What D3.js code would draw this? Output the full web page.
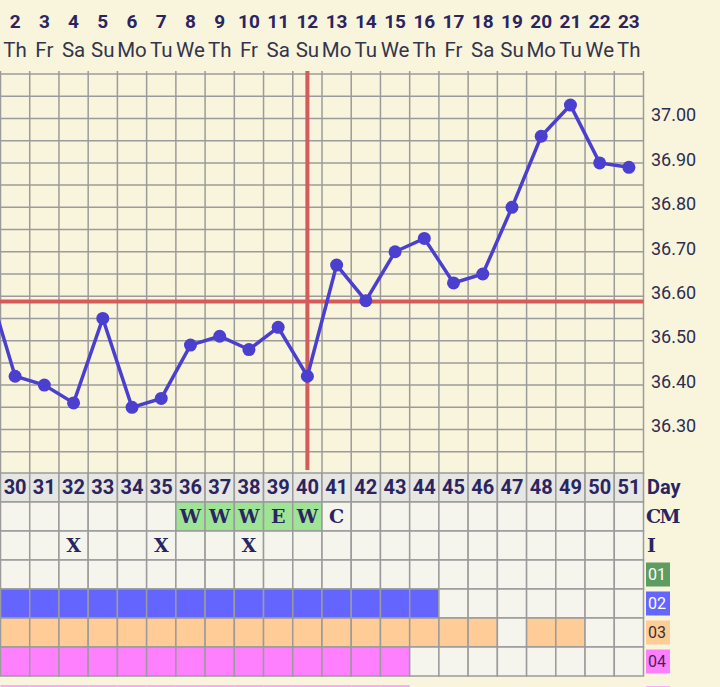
<!DOCTYPE html>
<html><head><meta charset="utf-8">
<script src="https://cdn.jsdelivr.net/npm/d3@7"></script>
<style>html,body{margin:0;padding:0;background:#f9f5dc;}svg{display:block;}</style>
</head><body>
<script>
// ---- data ----
const cycleDays = d3.range(30, 52);                 // 30..51
const dates = [2,3,4,5,6,7,8,9,10,11,12,13,14,15,16,17,18,19,20,21,22,23];
const weekdays = ["Th","Fr","Sa","Su","Mo","Tu","We","Th","Fr","Sa","Su","Mo","Tu","We","Th","Fr","Sa","Su","Mo","Tu","We","Th"];
const tempDays = d3.range(29, 52);                  // day 29 is the preceding (clipped) reading
const temps = [36.64, 36.42,36.40,36.36,36.55,36.35,36.37,36.49,36.51,36.48,36.53,36.42,
               36.67,36.59,36.70,36.73,36.63,36.65,36.80,36.96,37.03,36.90,36.89];
const tempTicks = [36.30,36.40,36.50,36.60,36.70,36.80,36.90,37.00];
const coverline = 36.588;
const ovulationDay = 40;
const cmValues = ["","","","","","","W","W","W","E","W","C","","","","","","","","","",""];
const cmGreen  = [0,0,0,0,0,0,1,1,1,1,1,0,0,0,0,0,0,0,0,0,0,0];
const iValues  = ["","","X","","","X","","","X","","","","","","","","","","","","",""];
const row01 = [0,0,0,0,0,0,0,0,0,0,0,0,0,0,0,0,0,0,0,0,0,0];
const row02 = [1,1,1,1,1,1,1,1,1,1,1,1,1,1,1,0,0,0,0,0,0,0];
const row03 = [1,1,1,1,1,1,1,1,1,1,1,1,1,1,1,1,1,0,1,1,0,0];
const row04 = [1,1,1,1,1,1,1,1,1,1,1,1,1,1,0,0,0,0,0,0,0,0];
const row05 = [1,1,1,1,1,1,1,1,1,1,1,1,1,1,0,0,0,0,0,0,0,0];
const rowLabels = ["01","02","03","04"];

// ---- styles ----
const W = 720, H = 687;
const navy = "#2a2560";
const gridCol = "#9b9b9b";
const rowColors = ["#5f9c62","#6464ff","#ffcb96","#ff80ff","#ffa8ff"];
const rowText = ["#ffffff","#ffffff","#333333","#4a1f5c"];

const svg = d3.select("body").append("svg").attr("width", W).attr("height", H);
svg.append("rect").attr("width", W).attr("height", H).attr("fill", "#f9f5dc");

const plotRight = 643.5, plotLeft = 0.5;
const x = d3.scaleLinear().domain([29.5, 51.5]).range([plotLeft, plotRight]);
const colW = x(31) - x(30);
const y = d3.scaleLinear().domain([36.20, 37.10]).range([474, 74]);

// header
const hdr = svg.append("g");
hdr.selectAll("text.date").data(cycleDays).join("text")
  .attr("x", d => x(d)).attr("y", 28).attr("text-anchor", "middle")
  .attr("font-family", "Roboto").attr("font-weight", 700).attr("font-size", 19)
  .attr("fill", navy).text((d, i) => dates[i]);
hdr.selectAll("text.wd").data(cycleDays).join("text")
  .attr("x", d => x(d)).attr("y", 57).attr("text-anchor", "middle")
  .attr("font-family", "Roboto").attr("font-size", 20.5)
  .attr("fill", "#34344a").text((d, i) => weekdays[i]);

// grid
const grid = svg.append("g").attr("stroke", gridCol).attr("stroke-width", 1.5);
const hLines = d3.range(36.25, 37.1001, 0.05);
grid.selectAll("line.h").data(hLines).join("line")
  .attr("x1", 0).attr("x2", plotRight).attr("y1", d => y(d)).attr("y2", d => y(d));
grid.selectAll("line.v").data(d3.range(30, 53)).join("line")
  .attr("x1", d => x(d - 0.5)).attr("x2", d => x(d - 0.5)).attr("y1", 71).attr("y2", 474);

// right axis labels
svg.append("g").selectAll("text").data(tempTicks).join("text")
  .attr("x", 651).attr("y", d => y(d) - 2).attr("dominant-baseline", "middle")
  .attr("font-family", "Roboto").attr("font-size", 18).attr("fill", "#2d2d50")
  .text(d => d.toFixed(2));

// coverline & ovulation line
const red = "#d65a5a";
svg.append("line").attr("x1", 0).attr("x2", plotRight)
  .attr("y1", y(coverline)).attr("y2", y(coverline))
  .attr("stroke", red).attr("stroke-width", 4);
svg.append("line").attr("x1", x(ovulationDay)).attr("x2", x(ovulationDay))
  .attr("y1", 71).attr("y2", 470).attr("stroke", red).attr("stroke-width", 4);

// temperature line
svg.append("clipPath").attr("id", "clip").append("rect")
  .attr("x", 0).attr("y", 60).attr("width", plotRight).attr("height", 420);
const tg = svg.append("g").attr("clip-path", "url(#clip)");
const pts = tempDays.map((d, i) => ({d, t: temps[i]}));
const lineCol = "#4b3fcf";
tg.append("path").datum(pts)
  .attr("d", d3.line().x(p => x(p.d)).y(p => y(p.t)))
  .attr("fill", "none").attr("stroke", lineCol).attr("stroke-width", 3.5);
tg.selectAll("circle").data(pts).join("circle")
  .attr("cx", p => x(p.d)).attr("cy", p => y(p.t)).attr("r", 6.5).attr("fill", lineCol);

// table
const rowH = 29;
const tbl = svg.append("g");
function cellRow(top, fills) {
  tbl.append("g").selectAll("rect").data(cycleDays).join("rect")
    .attr("x", d => x(d - 0.5)).attr("y", top).attr("width", colW).attr("height", rowH)
    .attr("fill", (d, i) => fills(i)).attr("stroke", gridCol).attr("stroke-width", 1.5);
}
function cellText(top, vals, font, size, weight) {
  tbl.append("g").selectAll("text").data(cycleDays).join("text")
    .attr("x", d => x(d)).attr("y", top + rowH / 2 + 1).attr("text-anchor", "middle")
    .attr("dominant-baseline", "middle")
    .attr("font-family", font).attr("font-size", size).attr("font-weight", weight)
    .attr("fill", navy).text((d, i) => vals[i]);
}
const cellBg = "#f5f5ee";
const dayTop = 473;
cellRow(dayTop, () => "#e6e6e3");
cellText(dayTop, cycleDays.map(String), "Roboto", 20, 700);
const cmTop = dayTop + rowH;
cellRow(cmTop, i => cmGreen[i] ? "#9fe396" : cellBg);
cellText(cmTop, cmValues, "DejaVu Serif", 19, 700);
const iTop = cmTop + rowH;
cellRow(iTop, () => cellBg);
cellText(iTop, iValues, "DejaVu Serif", 19, 700);
const rows = [row01, row02, row03, row04];
const rowTops = [];
rows.forEach((r, k) => {
  const top = iTop + rowH * (k + 1);
  rowTops.push(top);
  cellRow(top, i => r[i] ? rowColors[k] : cellBg);
});
// partially visible next row
const r5Top = rowTops[3] + rowH + 9;
tbl.append("g").selectAll("rect").data(cycleDays).join("rect")
  .attr("x", d => x(d - 0.5)).attr("y", r5Top).attr("width", colW).attr("height", rowH)
  .attr("fill", (d, i) => row05[i] ? rowColors[4] : "none");

// right-side row labels
const lab = svg.append("g");
lab.append("text").attr("x", 647).attr("y", dayTop + rowH / 2 + 1).attr("dominant-baseline", "middle")
  .attr("font-family", "Roboto").attr("font-weight", 700).attr("font-size", 20).attr("fill", navy).text("Day");
lab.append("text").attr("x", 646).attr("y", cmTop + rowH / 2 + 1).attr("dominant-baseline", "middle")
  .attr("font-family", "DejaVu Serif").attr("font-weight", 700).attr("font-size", 19)
  .attr("letter-spacing", -1.5).attr("fill", navy).text("CM");
lab.append("text").attr("x", 647).attr("y", iTop + rowH / 2 + 1).attr("dominant-baseline", "middle")
  .attr("font-family", "DejaVu Serif").attr("font-weight", 700).attr("font-size", 19).attr("fill", navy).text("I");
rowTops.forEach((top, k) => {
  lab.append("rect").attr("x", 646).attr("y", top + 2.5).attr("width", 24).attr("height", 24)
    .attr("fill", rowColors[k]);
  lab.append("text").attr("x", 648).attr("y", top + 15.5).attr("dominant-baseline", "middle")
    .attr("font-family", "Roboto").attr("font-size", 16).attr("fill", rowText[k]).text(rowLabels[k]);
});
lab.append("rect").attr("x", 646).attr("y", r5Top + 1).attr("width", 24).attr("height", 24)
  .attr("fill", rowColors[4]);
</script>
</body></html>
